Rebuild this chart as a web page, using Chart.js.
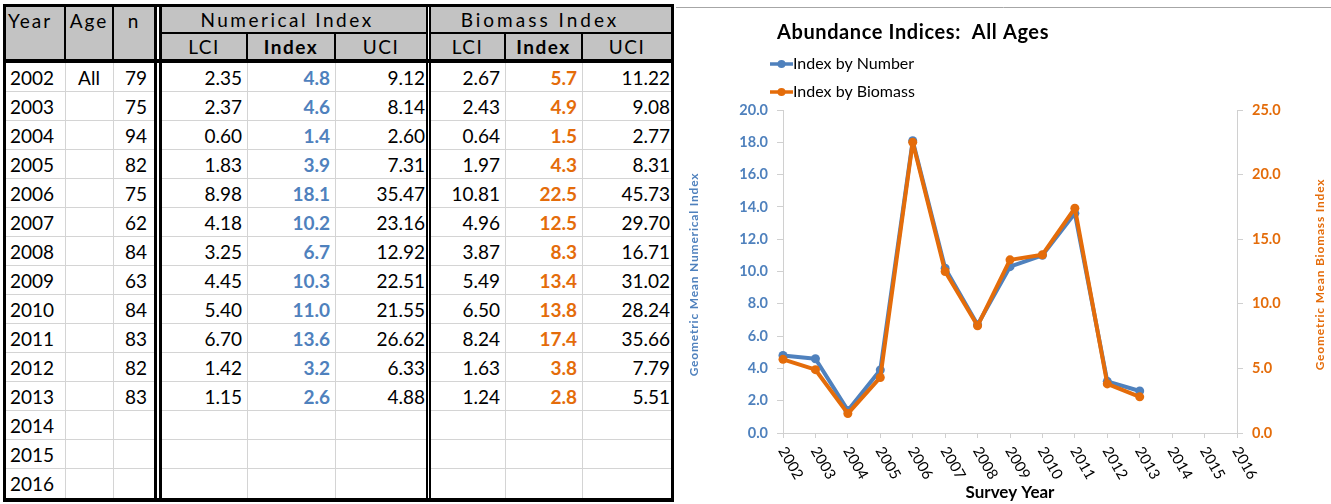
<!DOCTYPE html>
<html>
<head>
<meta charset="utf-8">
<script src="https://cdn.jsdelivr.net/npm/chart.js@4.4.1/dist/chart.umd.min.js"></script>
<style>
  body { margin: 0; background: #fff; width: 1331px; height: 504px; overflow: hidden; position: relative; font-family: Lato, "Open Sans", sans-serif; }
  #table { position: absolute; left: 0; top: 0; width: 676px; height: 504px; }
  #table div { position: absolute; box-sizing: border-box; white-space: nowrap; color: #000; font-size: 19px; }
  #chartBox { position: absolute; left: 676px; top: 0; width: 655px; height: 504px; }
</style>
</head>
<body>
<div id="table"></div>
<div id="chartBox"><canvas id="chart" width="655" height="504"></canvas></div>
<script>
// survey years and values
const years = ['2002', '2003', '2004', '2005', '2006', '2007', '2008', '2009', '2010', '2011', '2012', '2013', '2014', '2015', '2016'];
const ages = ['All'];
const sampleSizes = ['79', '75', '94', '82', '75', '62', '84', '63', '84', '83', '82', '83'];
const numLci = ['2.35', '2.37', '0.60', '1.83', '8.98', '4.18', '3.25', '4.45', '5.40', '6.70', '1.42', '1.15'];
const numIndex = ['4.8', '4.6', '1.4', '3.9', '18.1', '10.2', '6.7', '10.3', '11.0', '13.6', '3.2', '2.6'];
const numUci = ['9.12', '8.14', '2.60', '7.31', '35.47', '23.16', '12.92', '22.51', '21.55', '26.62', '6.33', '4.88'];
const bioLci = ['2.67', '2.43', '0.64', '1.97', '10.81', '4.96', '3.87', '5.49', '6.50', '8.24', '1.63', '1.24'];
const bioIndex = ['5.7', '4.9', '1.5', '4.3', '22.5', '12.5', '8.3', '13.4', '13.8', '17.4', '3.8', '2.8'];
const bioUci = ['11.22', '9.08', '2.77', '8.31', '45.73', '29.70', '16.71', '31.02', '28.24', '35.66', '7.79', '5.51'];

const numberTicks = [0, 2, 4, 6, 8, 10, 12, 14, 16, 18, 20];
const biomassTicks = [0, 5, 10, 15, 20, 25];

const chartTitle = 'Abundance Indices:  All Ages';
const seriesNames = ['Index by Number', 'Index by Biomass'];
const blue = '#4f81bd';
const orange = '#e46c0a';

// ---- table ----
const table = document.getElementById('table');
function box(x, y, w, h, css, text) {
	const d = document.createElement('div');
	d.style.cssText = `left:${x}px;top:${y}px;width:${w}px;height:${h}px;` + (css || '');
	if (text !== undefined) d.textContent = text;
	table.appendChild(d);
	return d;
}
function rect(x1, y1, x2, y2, color) {
	box(x1, y1, x2 - x1, y2 - y1, 'background:' + color + ';');
}

const rowTop = 63;
const rowH = 29;
const headGray = '#c3c3c3';
const gridGray = '#d4d4d4';

// column layout: [left, right, align, padding]
const cols = [
	[6, 64, 'left', 4], [66, 112, 'center', 0], [114, 154, 'right', 7],
	[162, 246, 'right', 4], [248, 334, 'right', 4], [336, 426, 'right', 1],
	[431, 504, 'right', 4], [506, 581, 'right', 4], [583, 671, 'right', 1]
];
const blocks = [[6, 154], [162, 426], [431, 671]];

// header fill
blocks.forEach(b => rect(b[0], 7, b[1], 59, headGray));

// data grid lines
for (let k = 1; k < years.length; k++) {
	blocks.forEach(b => rect(b[0], rowTop + rowH * k - 1, b[1], rowTop + rowH * k, gridGray));
}
[65, 113, 247, 335, 505, 582].forEach(x => rect(x, rowTop, x + 1, 498, gridGray));

// header separators
rect(64, 7, 66, 59, '#000');
rect(112, 7, 114, 59, '#000');
rect(162, 32, 426, 34, '#000');
rect(431, 32, 671, 34, '#000');
[246, 334, 504, 581].forEach(x => rect(x, 34, x + 2, 59, '#000'));

// heavy borders
rect(3, 4, 674, 7, '#000');
rect(3, 59, 674, 63, '#000');
rect(3, 498, 674, 502, '#000');
[[3, 6], [154, 157], [159, 162], [426, 428], [429, 431], [671, 674]].forEach(v => rect(v[0], 4, v[1], 502, '#000'));

// header text
function headText(c0, c1, y, h, text, opts) {
	const o = opts || {};
	let css = `text-align:${o.align || 'center'};line-height:${h}px;letter-spacing:${o.spacing || 2}px;`;
	css += `padding-left:${o.padL || 0}px;padding-right:${o.padR || 0}px;`;
	if (o.bold) css += 'font-weight:bold;';
	box(cols[c0][0], y, cols[c1][1] - cols[c0][0], h, css, text);
}
headText(0, 0, 8, 26, 'Year', { align: 'left', padL: 2 });
headText(1, 1, 8, 26, 'Age');
headText(2, 2, 8, 26, 'n');
headText(3, 5, 7, 26, 'Numerical Index', { spacing: 2.5, padR: 14 });
headText(6, 8, 7, 26, 'Biomass Index', { spacing: 3, padR: 22 });
['LCI', 'Index', 'UCI', 'LCI', 'Index', 'UCI'].forEach((t, i) =>
	headText(i + 3, i + 3, 34, 26, t, { bold: t === 'Index', spacing: 1.5 }));

// body text
const columns = [years, ages, sampleSizes, numLci, numIndex, numUci, bioLci, bioIndex, bioUci];
const colColors = [null, null, null, null, blue, null, null, orange, null];
columns.forEach((values, c) => {
	const [l, r, align, pad] = cols[c];
	values.forEach((v, i) => {
		let css = `text-align:${align};line-height:${rowH + 1}px;`;
		css += align === 'left' ? `padding-left:${pad}px;` : `padding-right:${pad}px;`;
		if (colColors[c]) css += `color:${colColors[c]};font-weight:bold;`;
		box(l, rowTop + rowH * i, r - l, rowH, css, v);
	});
});

// ---- chart ----
const decor = {
	id: 'decor',
	afterDraw(chart) {
		const { ctx, chartArea, scales } = chart;
		ctx.save();

		// frame edge
		ctx.strokeStyle = '#a6a6a6';
		ctx.lineWidth = 1;
		ctx.beginPath();
		ctx.moveTo(0, 7.5);
		ctx.lineTo(chart.width, 7.5);
		ctx.stroke();

		// title
		ctx.fillStyle = '#000';
		ctx.font = 'bold 20px Lato';
		ctx.letterSpacing = '0.6px';
		ctx.textAlign = 'center';
		ctx.textBaseline = 'middle';
		ctx.fillText(chartTitle, 237, 33);
		ctx.letterSpacing = '0px';

		// legend
		ctx.textAlign = 'left';
		ctx.font = '16px Lato';
		chart.data.datasets.forEach((ds, i) => {
			const y = 64 + i * 28;
			ctx.strokeStyle = ds.borderColor;
			ctx.fillStyle = ds.borderColor;
			ctx.lineWidth = 3.5;
			ctx.beginPath();
			ctx.moveTo(94, y);
			ctx.lineTo(117, y);
			ctx.stroke();
			ctx.beginPath();
			ctx.arc(105.5, y, 4, 0, Math.PI * 2);
			ctx.fill();
			ctx.fillStyle = '#000';
			ctx.fillText(ds.label, 117, y);
		});

		// rotated year labels
		const x = scales.x;
		ctx.font = '15px Lato';
		ctx.fillStyle = '#000';
		ctx.textAlign = 'left';
		ctx.textBaseline = 'middle';
		years.forEach((lbl, i) => {
			ctx.save();
			ctx.translate(x.getPixelForTick(i) - 1, x.top + 15);
			ctx.rotate(Math.PI / 3);
			ctx.fillText(lbl, 0, 0);
			ctx.restore();
		});

		ctx.font = 'bold 17px Lato';
		ctx.textAlign = 'center';
		ctx.fillText('Survey Year', (chartArea.left + chartArea.right) / 2, 493);

		// axis titles
		const midY = (chartArea.top + chartArea.bottom) / 2 + 3;
		ctx.font = 'bold 12px Lato';
		ctx.letterSpacing = '0.8px';
		[[18, blue, 'Geometric Mean Numerical Index'], [644, orange, 'Geometric Mean Biomass Index']].forEach(([tx, col, text]) => {
			ctx.save();
			ctx.translate(tx, midY);
			ctx.rotate(-Math.PI / 2);
			ctx.fillStyle = col;
			ctx.fillText(text, 0, 0);
			ctx.restore();
		});

		ctx.restore();
	}
};

const axisGray = '#d0d0d0';

function yAxis(position, ticks, color, width) {
	return {
		position: position,
		min: 0,
		max: ticks[ticks.length - 1],
		afterBuildTicks: (scale) => { scale.ticks = ticks.map(v => ({ value: v })); },
		afterFit: (scale) => { scale.width = width; },
		grid: { drawOnChartArea: false, drawTicks: true, tickLength: 6, color: axisGray },
		border: { color: axisGray },
		ticks: {
			color: color,
			padding: 9,
			font: { family: 'Lato', size: 14.5, weight: 'bold' },
			callback: (v) => Number(v).toFixed(1)
		}
	};
}

function lineSet(label, values, axis, color, order) {
	return {
		label: label,
		data: values.map(Number),
		yAxisID: axis,
		borderColor: color,
		backgroundColor: color,
		borderWidth: 4,
		borderJoinStyle: 'round',
		pointRadius: 4.5,
		pointBorderWidth: 0,
		pointBackgroundColor: color,
		tension: 0,
		clip: false,
		order: order
	};
}

function draw() {
	const canvas = document.getElementById('chart');
	new Chart(canvas, {
		type: 'line',
		data: {
			labels: years,
			datasets: [
				lineSet(seriesNames[0], numIndex, 'yNum', blue, 2),
				lineSet(seriesNames[1], bioIndex, 'yBio', orange, 1)
			]
		},
		options: {
			responsive: false,
			devicePixelRatio: 1,
			animation: false,
			layout: { padding: { top: 110, left: 0, right: 0, bottom: 0 } },
			plugins: {
				legend: { display: false },
				title: { display: false },
				tooltip: { enabled: false }
			},
			scales: {
				x: {
					type: 'category',
					offset: false,
					afterFit: (scale) => { scale.height = 71; },
					grid: { offset: false, drawOnChartArea: false, drawTicks: true, tickLength: 5, color: axisGray },
					border: { color: axisGray },
					ticks: { display: false, autoSkip: false }
				},
				yNum: yAxis('left', numberTicks, blue, 107),
				yBio: yAxis('right', biomassTicks, orange, 94)
			}
		},
		plugins: [decor]
	});
}

Promise.all([
	document.fonts.load('14px Lato'),
	document.fonts.load('bold 14px Lato')
]).then(draw, draw);
</script>
</body>
</html>
